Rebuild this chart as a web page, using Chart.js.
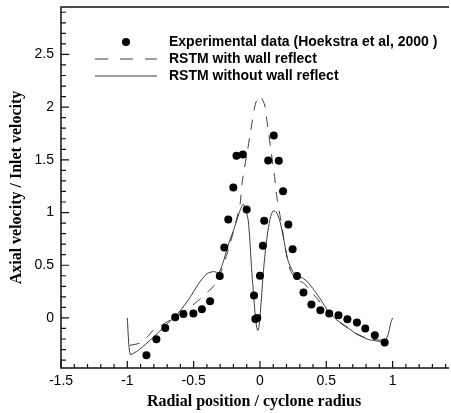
<!DOCTYPE html>
<html>
<head>
<meta charset="utf-8">
<script src="https://cdn.jsdelivr.net/npm/chart.js@4"></script>
<style>
  html, body { margin: 0; padding: 0; background: #fff; overflow: hidden; }
  #wrap { width: 451px; height: 413px; position: relative; }
</style>
</head>
<body>
<div id="wrap"><canvas id="velChart"></canvas></div>
<script>
// Experimental points (Hoekstra et al, 2000)
var expX = [-0.856, -0.781, -0.714, -0.639, -0.577, -0.502, -0.438, -0.376, -0.303, -0.269,
            -0.239, -0.201, -0.177, -0.129, -0.100, -0.045, -0.035, -0.020, 0.000, 0.022,
            0.032, 0.062, 0.104, 0.142, 0.174, 0.214, 0.246, 0.279, 0.328, 0.388,
            0.455, 0.522, 0.592, 0.659, 0.731, 0.794, 0.866, 0.940];
var expY = [-0.354, -0.203, -0.095, 0.006, 0.038, 0.041, 0.082, 0.158, 0.399, 0.668,
            0.934, 1.237, 1.538, 1.551, 1.028, 0.212, -0.010, 0.000, 0.400, 0.684,
            0.921, 1.494, 1.731, 1.491, 1.203, 0.886, 0.652, 0.399, 0.241, 0.127,
            0.073, 0.041, 0.025, -0.013, -0.044, -0.101, -0.165, -0.234];

// RSTM with wall reflection (dashed)
var wallX = [-0.98, -0.91, -0.85, -0.80, -0.73, -0.65, -0.55, -0.46, -0.39, -0.33,
             -0.30, -0.25, -0.20, -0.15, -0.135, -0.12, -0.094, -0.069, -0.04, -0.014,
             0.01, 0.035, 0.06, 0.085, 0.11, 0.13, 0.15, 0.17, 0.20, 0.23,
             0.27, 0.33, 0.40, 0.50, 0.60, 0.70, 0.80, 0.90, 0.95];
var wallY = [-0.26, -0.24, -0.18, -0.11, -0.06, 0.00, 0.08, 0.17, 0.25, 0.33,
             0.42, 0.60, 0.82, 1.08, 1.28, 1.40, 1.59, 1.78, 2.00, 2.10,
             2.09, 2.02, 1.80, 1.57, 1.34, 1.12, 0.98, 0.83, 0.60, 0.45,
             0.37, 0.33, 0.23, 0.08, -0.04, -0.13, -0.19, -0.21, -0.20];

// RSTM without wall reflection (solid)
var noWallX = [-1.0, -0.978, -0.91, -0.81, -0.71, -0.62, -0.54, -0.46, -0.40, -0.35,
               -0.31, -0.28, -0.24, -0.20, -0.15, -0.126, -0.105, -0.089, -0.075, -0.064,
               -0.05, -0.039, -0.025, -0.015, -0.005, 0.01, 0.022, 0.036, 0.06, 0.08,
               0.098, 0.122, 0.148, 0.18, 0.21, 0.247, 0.284, 0.32, 0.36, 0.41,
               0.46, 0.51, 0.58, 0.66, 0.73, 0.82, 0.89, 0.94, 0.968, 0.985, 1.0];
var noWallY = [0.00, -0.345, -0.30, -0.19, -0.07, 0.04, 0.17, 0.33, 0.42, 0.44,
               0.43, 0.52, 0.69, 0.83, 1.02, 1.08, 1.02, 0.93, 0.72, 0.48,
               0.25, 0.07, -0.09, -0.12, -0.06, 0.17, 0.38, 0.58, 0.83, 0.96,
               1.015, 1.006, 0.93, 0.74, 0.55, 0.44, 0.40, 0.38, 0.34, 0.26,
               0.17, 0.07, -0.02, -0.09, -0.155, -0.205, -0.22, -0.228, -0.15, -0.05, 0.00];

var xTicks = [-1.5, -1, -0.5, 0, 0.5, 1];
var yTicks = [0, 0.5, 1, 1.5, 2, 2.5];
var legendLabels = ['Experimental data (Hoekstra et al, 2000 )', 'RSTM with wall reflect', 'RSTM without wall reflect'];

function pts(xs, ys) {
    return xs.map(function (x, i) { return { x: x, y: ys[i] }; });
}

var lineColor = '#3a3a3a';

// frame on left/top/bottom with inward major + minor ticks
var framePlugin = {
    id: 'frame',
    afterDraw: function (chart) {
        var ctx = chart.ctx, a = chart.chartArea;
        var xs = chart.scales.x, ys = chart.scales.y;
        ctx.save();
        ctx.strokeStyle = '#111';
        ctx.lineWidth = 1.5;
        ctx.beginPath();
        ctx.moveTo(a.right + 2, a.top);
        ctx.lineTo(a.left, a.top);
        ctx.lineTo(a.left, a.bottom);
        ctx.lineTo(a.right + 2, a.bottom);
        ctx.stroke();

        ctx.lineWidth = 1.2;
        ctx.beginPath();
        var i, v, p, major;
        for (i = -15; i <= 14; i++) {
            v = i / 10;
            p = xs.getPixelForValue(v);
            major = i % 5 === 0;
            ctx.moveTo(p, a.bottom);
            ctx.lineTo(p, a.bottom - (major ? 7 : 4));
        }
        for (i = -4; i <= 29; i++) {
            v = i / 10;
            p = ys.getPixelForValue(v);
            major = i % 5 === 0;
            ctx.moveTo(a.left, p);
            ctx.lineTo(a.left + (major ? 8 : 5), p);
        }
        ctx.stroke();
        ctx.restore();
    }
};

// legend in the upper part of the plot
var legendPlugin = {
    id: 'innerLegend',
    afterDraw: function (chart) {
        var ctx = chart.ctx;
        ctx.save();
        ctx.fillStyle = '#000';
        ctx.font = 'bold 14px "Liberation Sans", Arial, sans-serif';
        ctx.textBaseline = 'middle';
        var rows = [42, 59, 76];
        var tx = 169;

        ctx.beginPath();
        ctx.arc(126, rows[0], 4, 0, Math.PI * 2);
        ctx.fill();

        ctx.strokeStyle = lineColor;
        ctx.lineWidth = 1;
        ctx.setLineDash([13, 12]);
        ctx.beginPath();
        ctx.moveTo(95, rows[1]);
        ctx.lineTo(157, rows[1]);
        ctx.stroke();
        ctx.setLineDash([]);
        ctx.beginPath();
        ctx.moveTo(95, rows[2]);
        ctx.lineTo(157, rows[2]);
        ctx.stroke();

        legendLabels.forEach(function (t, i) {
            ctx.fillText(t, tx, rows[i]);
        });
        ctx.restore();
    }
};

function plainTick(v) { return String(v); }

new Chart(document.getElementById('velChart').getContext('2d'), {
    type: 'scatter',
    data: {
        datasets: [
            {
                label: legendLabels[0],
                data: pts(expX, expY),
                pointRadius: 4,
                pointBackgroundColor: '#000',
                pointBorderWidth: 0,
                showLine: false,
                order: 0,
            },
            {
                label: legendLabels[1],
                data: pts(wallX, wallY),
                showLine: true,
                borderColor: lineColor,
                borderWidth: 1,
                borderDash: [10, 9],
                pointRadius: 0,
                tension: 0.2,
                order: 1,
            },
            {
                label: legendLabels[2],
                data: pts(noWallX, noWallY),
                showLine: true,
                borderColor: lineColor,
                borderWidth: 1,
                pointRadius: 0,
                tension: 0.2,
                order: 2,
            },
        ],
    },
    options: {
        responsive: true,
        maintainAspectRatio: false,
        animation: false,
        events: [],
        layout: { padding: { top: 7, right: 0, bottom: 0, left: 0 } },
        plugins: { legend: { display: false }, tooltip: { enabled: false } },
        scales: {
            x: {
                type: 'linear',
                min: -1.5,
                max: 1.41,
                grid: { display: false, drawTicks: false },
                border: { display: false },
                afterBuildTicks: function (s) { s.ticks = xTicks.map(function (v) { return { value: v }; }); },
                afterFit: function (s) {
                    s.height = 45;
                    s.paddingLeft = 0; s.paddingRight = 0;
                },
                ticks: {
                    color: '#000',
                    padding: 5,
                    maxRotation: 0,
                    callback: plainTick,
                    font: { family: '"Liberation Sans", Arial, sans-serif', size: 14 },
                },
                title: {
                    display: true,
                    text: 'Radial position / cyclone radius',
                    color: '#000',
                    padding: { top: 0, bottom: 2 },
                    font: { family: '"Liberation Serif", "Times New Roman", serif', size: 16, weight: 'bold' },
                },
            },
            y: {
                type: 'linear',
                min: -0.475,
                max: 2.95,
                grid: { display: false, drawTicks: false },
                border: { display: false },
                afterBuildTicks: function (s) { s.ticks = yTicks.map(function (v) { return { value: v }; }); },
                afterFit: function (s) {
                    s.width = 61;
                    s.paddingTop = 0; s.paddingBottom = 0;
                },
                ticks: {
                    color: '#000',
                    padding: 7,
                    callback: plainTick,
                    font: { family: '"Liberation Sans", Arial, sans-serif', size: 14 },
                },
                title: {
                    display: true,
                    text: 'Axial velocity / Inlet velocity',
                    color: '#000',
                    padding: { top: 7, bottom: 0 },
                    font: { family: '"Liberation Serif", "Times New Roman", serif', size: 16, weight: 'bold' },
                },
            },
        },
    },
    plugins: [framePlugin, legendPlugin],
});
</script>
</body>
</html>
